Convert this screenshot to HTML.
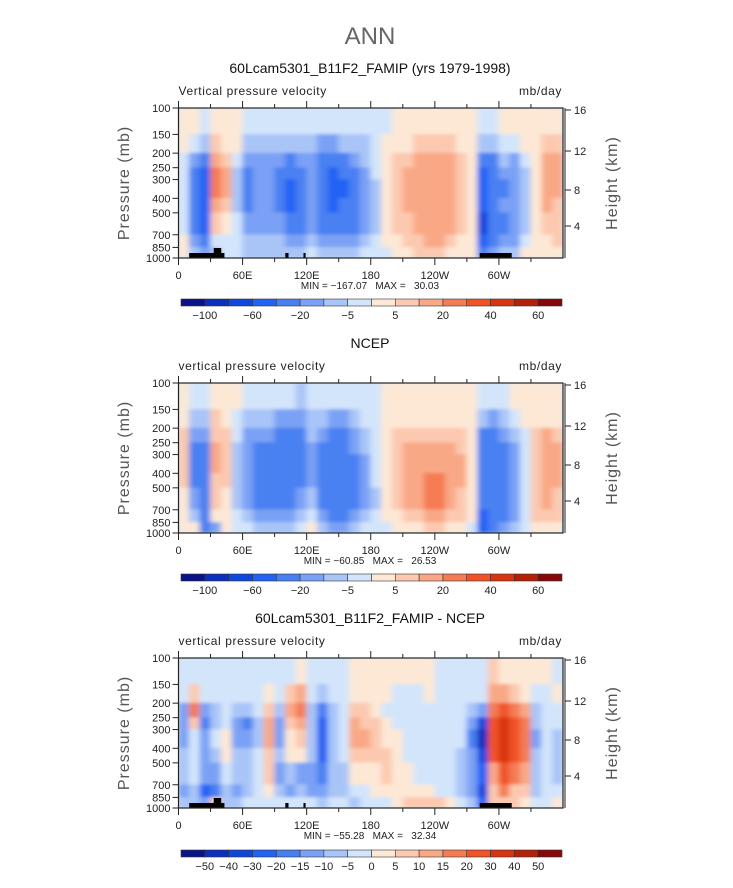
<!DOCTYPE html>
<html><head><meta charset="utf-8"><style>
html,body{margin:0;padding:0;background:#fff;}
svg{display:block;font-family:"Liberation Sans",sans-serif;}
</style></head><body>
<svg id="fig" width="733" height="888" viewBox="0 0 733 888">
<defs>
<filter id="soft" x="-5%" y="-5%" width="110%" height="110%"><feGaussianBlur stdDeviation="3 1.6"/></filter>
</defs>
<text x="370" y="44" text-anchor="middle" font-size="24" fill="#666" font-weight="300">ANN</text>
</svg>
<script>
const COLORS=["#0a1488","#0b2fbe","#0f46dc","#2262f4","#4880f2","#7aa1f5","#a9c5f8","#d3e5fb","#fde8d6","#fcc9b0","#f9a886","#f57c52","#f05326","#d93411","#b42108","#870808"];
const binsAbs=[-100,-80,-60,-40,-20,-10,-5,0,5,10,20,30,40,50,60];
const binsDiff=[-50,-40,-30,-20,-15,-10,-5,0,5,10,15,20,30,40,50];
const labelsAbs=["-100","-60","-20","-5","5","20","40","60"];
const labelsDiff=["-50","-40","-30","-20","-15","-10","-5","0","5","10","15","20","30","40","50"];
const pressEdges=[100,150,200,250,300,400,500,700,850,1000];
const pTicks=[100,150,200,250,300,400,500,700,850,1000];
const lonTicks=[0,60,120,180,240,300];
const lonLabels=["0","60E","120E","180","120W","60W"];
const heightTicks=[16,12,8,4];
const heightOffsets=[2,43,82,118];
const topo=[[10,43,1],[33,40,2],[100,103,1],[117,119,1],[282,312,1]];
const model=[
[2,2,-2,-2,-2,-2,-2,2,2],[2,-2,-15,-30,-30,-30,-30,-15,-7],[-2,-7,-30,-50,-50,-50,-50,-30,-15],[2,7,15,25,25,15,7,-2,-7],
[2,2,7,15,15,7,2,-2,-2],[2,2,-2,-7,-7,-7,-2,-2,-2],[-2,-7,-15,-30,-30,-30,-15,-7,-7],[-2,-7,-15,-15,-15,-15,-15,-7,-7],
[-2,-7,-15,-15,-15,-15,-15,-7,-7],[-2,-7,-15,-30,-30,-30,-15,-7,-7],[-2,-7,-30,-30,-50,-50,-30,-15,-7],[-2,-7,-15,-30,-30,-30,-30,-15,-7],
[-2,-7,-15,-15,-15,-15,-15,-7,-2],[-2,-15,-30,-30,-30,-30,-30,-15,-7],[-2,-15,-30,-50,-50,-50,-30,-15,-7],[-2,-7,-30,-30,-50,-30,-30,-15,-7],
[-2,-7,-15,-30,-30,-30,-30,-15,-7],[-2,-7,-7,-15,-15,-15,-15,-7,-2],[-2,-2,-2,-2,-7,-7,-7,-2,-2],[-2,2,2,2,2,2,2,2,-2],
[2,2,7,7,7,7,7,2,2],[2,2,7,15,15,15,7,7,2],[2,7,15,15,15,15,15,7,7],[2,7,15,15,15,15,15,15,7],
[2,7,15,15,15,15,15,15,7],[2,7,15,15,15,15,15,7,2],[2,2,7,7,7,7,7,2,2],[2,2,2,2,2,2,2,2,2],
[-2,-7,-30,-50,-50,-50,-70,-50,-30],[-2,-7,-30,-30,-30,-30,-30,-30,-15],[2,-2,-7,-15,-30,-15,-30,-15,-7],[2,-2,-15,-15,-15,-15,-15,-15,-7],
[2,2,-2,-7,-7,-7,-7,-2,2],[2,2,2,2,2,2,2,2,2],[2,7,15,15,15,15,7,2,2],[2,7,15,15,15,7,7,7,2]];
const ncep=[
[2,2,7,7,7,7,2,2,2],[-2,-7,-15,-30,-30,-30,-15,-7,2],[-2,-7,-15,-30,-30,-30,-30,-30,-30],[2,7,7,15,15,7,7,2,-15],
[2,2,7,7,7,7,2,2,2],[2,-2,-2,-7,-7,-7,-7,-2,-2],[-2,-7,-15,-15,-15,-15,-15,-7,-2],[-2,-7,-15,-30,-30,-30,-30,-15,-7],
[-2,-7,-15,-30,-30,-30,-30,-15,-7],[-2,-15,-30,-30,-30,-30,-30,-15,-7],[-2,-15,-30,-30,-30,-30,-30,-15,-7],[-7,-15,-30,-30,-30,-30,-15,-7,-2],
[-2,-7,-7,-15,-15,-15,-7,-2,2],[-2,-7,-15,-30,-30,-30,-30,-15,-7],[-2,-15,-30,-30,-30,-30,-30,-30,-15],[-2,-15,-30,-30,-30,-30,-30,-30,-15],
[-2,-7,-15,-15,-30,-30,-30,-15,-7],[-2,-2,-7,-7,-15,-15,-15,-7,-2],[-2,-2,-2,-2,-2,-2,-7,-2,-2],[2,2,2,2,2,2,2,2,-2],
[2,2,7,7,7,7,7,2,2],[2,2,7,15,15,15,15,7,2],[2,2,7,15,15,15,15,7,2],[2,2,7,15,15,25,25,15,7],
[2,2,7,15,15,25,25,15,7],[2,2,7,15,15,15,15,7,2],[2,2,7,7,15,15,7,7,2],[2,2,2,2,2,2,2,2,-2],
[-2,-7,-30,-30,-30,-30,-30,-50,-50],[-2,-15,-30,-30,-30,-30,-30,-30,-30],[-2,-7,-15,-30,-30,-30,-30,-30,-15],[2,-2,-7,-15,-15,-15,-15,-15,-7],
[2,2,-2,-2,-2,-2,-2,-2,-2],[2,2,7,7,7,7,7,7,2],[2,2,15,15,15,15,15,7,2],[2,2,7,15,15,15,7,7,2]];
const diff=[
[-2,-2,-12,-12,-12,-7,-7,-12,-7],[-2,7,17,7,-2,-2,-2,-7,-7],[-2,-2,-12,-17,-12,-12,-12,-25,-12],[-2,-2,-7,-7,-2,-7,-12,-17,7],
[-2,-2,-2,-2,2,2,-2,-7,-7],[-2,-2,-7,-12,-12,-7,-7,-12,-7],[-2,-2,-7,-17,-12,-7,-7,-7,-2],[-2,-2,-2,-7,-7,-2,-2,-2,-2],
[-2,2,7,12,12,7,7,2,-2],[-2,-2,-7,-12,-12,-7,-12,-7,-2],[-2,7,12,7,2,2,-7,-12,-2],[2,12,17,12,7,2,-12,-7,-2],
[-2,-2,-7,-7,-7,-7,-12,-12,-2],[-2,-7,-17,-25,-25,-25,-17,-12,-7],[-2,-2,-7,-7,-7,-7,-7,-7,-2],[-2,-2,-2,-2,-2,-2,-7,-7,-2],
[2,2,7,12,12,7,2,-2,-7],[2,2,7,7,12,7,2,-2,-2],[2,2,2,7,7,7,2,2,-2],[2,2,-2,2,2,7,7,2,-2],
[2,-2,-2,-2,2,2,2,2,2],[2,-2,-2,-2,-2,-2,2,2,7],[2,-2,-2,-2,-2,-2,-2,2,7],[2,2,-2,-2,-2,-2,-2,2,7],
[-2,-2,-2,-2,-2,-2,-2,-2,7],[-2,-2,-2,-2,-2,-2,-2,-2,2],[-2,-2,-2,-2,-2,-7,-7,-7,-2],[-2,-2,-7,-12,-17,-12,-12,-12,-7],
[-2,-2,-12,-35,-45,-35,-25,-35,-25],[7,12,17,25,25,25,12,7,7],[2,12,25,35,35,35,25,17,7],[2,7,17,25,25,25,17,7,7],
[2,2,12,17,17,17,12,7,2],[2,-2,-7,-7,-12,-7,-7,-7,-2],[2,-2,-2,-2,-2,-2,-2,-2,-2],[-2,2,-2,-2,-7,-7,-7,-2,2]];

const NS="http://www.w3.org/2000/svg";
const svg=document.getElementById('fig');
const X0=178.5,X1=563,H=150;
function el(tag,attrs,parent){const e=document.createElementNS(NS,tag);for(const k in attrs)e.setAttribute(k,attrs[k]);(parent||svg).appendChild(e);return e;}
function xs(lon){return X0+(lon/360)*(X1-X0);}
function colorFor(v,bins){let i=0;while(i<bins.length&&v>=bins[i])i++;return COLORS[i];}

function panel(id,top,title,data,bins,minmax,showTopo,cbY,cbLabels,labelEvery){
  const ys=p=>top+Math.log10(p/100)*H;
  const g=el('g',{});
  
  
  const t=el('text',{x:370,y:top-35,'text-anchor':'middle','font-size':14,fill:'#111'},g);
  t.textContent=title;
  
  
  const s1=el('text',{x:X0,y:top-13,'font-size':12,fill:'#222','letter-spacing':'0.6'},g);
  s1.textContent=id==='model'?'Vertical pressure velocity':'vertical pressure velocity';
  
  
  const s2=el('text',{x:X1-1,y:top-13,'text-anchor':'end','font-size':12,fill:'#222','letter-spacing':'0.6'},g);
  s2.textContent='mb/day';
  
  
  const cid='clip-'+id;
  const cp=el('clipPath',{id:cid},g);el('rect',{x:X0,y:top,width:X1-X0,height:H},cp);
  const cg=el('g',{'clip-path':'url(#'+cid+')'},g);
  el('rect',{x:X0,y:top,width:X1-X0,height:H,fill:'#d3e5fb'},cg);
  const fg=el('g',{filter:'url(#soft)'},cg);
  for(let c=0;c<data.length;c++){
    for(let r=0;r<data[c].length;r++){
      const x=xs(c*10),w=xs(c*10+10)-x;
      const y=ys(pressEdges[r]),h=ys(pressEdges[r+1])-y;
      const cell=el('rect',{x:x-0.3,y:y-0.3,width:w+0.6,height:h+0.6,fill:colorFor(data[c][r],bins)},fg);
      
      
    }
  }
  if(showTopo){
    for(const tp of topo){
      const hh=5*tp[2];
      const b=el('rect',{x:xs(tp[0]),y:top+H-hh,width:xs(tp[1])-xs(tp[0]),height:hh,fill:'#000'},cg);
      
      
    }
  }
  const fr=el('rect',{x:X0,y:top,width:X1-X0,height:H,fill:'none',stroke:'#222','stroke-width':1.2},g);
  
  
  for(let lon=0;lon<360;lon+=30){
    const major=lon%60===0,len=major?7:4;
    el('line',{x1:xs(lon),x2:xs(lon),y1:top,y2:top-len,stroke:'#222'},g);
    el('line',{x1:xs(lon),x2:xs(lon),y1:top+H,y2:top+H+len,stroke:'#222'},g);
  }
  lonTicks.forEach((lon,i)=>{
    const l=el('text',{x:xs(lon),y:top+H+21,'text-anchor':'middle','font-size':11,fill:'#222'},g);
    l.textContent=lonLabels[i];
    
    
  });
  pTicks.forEach(p=>{
    el('line',{x1:X0-6,x2:X0,y1:ys(p),y2:ys(p),stroke:'#222'},g);
    const l=el('text',{x:X0-8,y:ys(p)+4,'text-anchor':'end','font-size':11,fill:'#222'},g);
    l.textContent=p;
    
    
  });
  const yt=el('text',{transform:`translate(129,${top+75}) rotate(-90)`,'text-anchor':'middle','font-size':16,fill:'#555','letter-spacing':'1'},g);
  yt.textContent='Pressure (mb)';
  
  
  heightTicks.forEach((h,i)=>{
    const y=top+heightOffsets[i];
    el('line',{x1:X1+2,x2:X1+8,y1:y,y2:y,stroke:'#222'},g);
    const l=el('text',{x:X1+11,y:y+4,'font-size':11,fill:'#222'},g);
    l.textContent=h;
    
    
  });
  el('line',{x1:X1+2,x2:X1+2,y1:top,y2:top+H,stroke:'#222'},g);
  const ht=el('text',{transform:`translate(617,${top+75}) rotate(-90)`,'text-anchor':'middle','font-size':16,fill:'#555','letter-spacing':'1'},g);
  ht.textContent='Height (km)';
  
  
  const mm=el('text',{x:370,y:top+H+31,'text-anchor':'middle','font-size':10,fill:'#222',style:'white-space:pre'},g);
  mm.textContent=minmax;
  
  
  const cb=el('g',{},g);
  
  
  const cx0=181,cx1=562,cw=(cx1-cx0)/16;
  COLORS.forEach((c,i)=>{
    el('rect',{x:cx0+i*cw,y:cbY,width:cw,height:7,fill:c,stroke:'#333','stroke-width':0.6},cb);
  });
  cbLabels.forEach((lab,i)=>{
    const bi=labelEvery===2?1+2*i:i+1;
    const l=el('text',{x:cx0+bi*cw,y:cbY+20,'text-anchor':'middle','font-size':11,fill:'#222'},cb);
    l.textContent=lab.replace('-','\u2212');
    
    
  });
}
panel('model',108,'60Lcam5301_B11F2_FAMIP (yrs 1979-1998)',model,binsAbs,'MIN = \u2212167.07   MAX =   30.03',true,299,labelsAbs,2);
panel('ncep',383,'NCEP',ncep,binsAbs,'MIN = \u221260.85   MAX =   26.53',false,574,labelsAbs,2);
panel('diff',658,'60Lcam5301_B11F2_FAMIP - NCEP',diff,binsDiff,'MIN = \u221255.28   MAX =   32.34',true,850,labelsDiff,1);
</script>
</body></html>
